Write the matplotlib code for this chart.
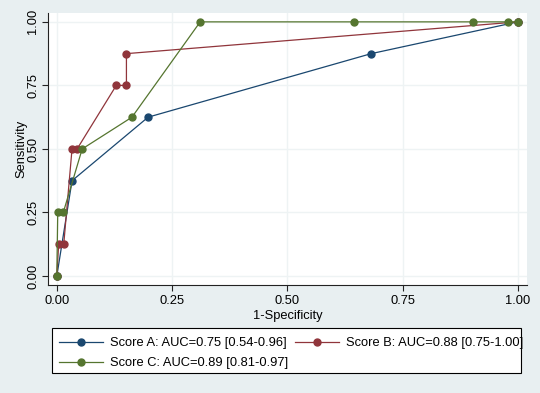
"""ROC curves for three scores, Stata-like look."""
import matplotlib
matplotlib.use("Agg")
import matplotlib.pyplot as plt
from matplotlib.patches import Rectangle

# 1-specificity / sensitivity
a_fpr = [0.0, 0.033, 0.198, 0.682, 1.0]
a_tpr = [0.0, 0.375, 0.625, 0.875, 1.0]

b_fpr = [0.0, 0.004, 0.015, 0.033, 0.044, 0.129, 0.151, 0.151, 1.0]
b_tpr = [0.0, 0.125, 0.125, 0.5, 0.5, 0.75, 0.75, 0.875, 1.0]

c_fpr = [0.0, 0.002, 0.014, 0.055, 0.163, 0.311, 0.645, 0.903, 0.979, 1.0]
c_tpr = [0.0, 0.25, 0.25, 0.5, 0.625, 1.0, 1.0, 1.0, 1.0, 1.0]

labels = ["Score A: AUC=0.75 [0.54-0.96]",
          "Score B: AUC=0.88 [0.75-1.00]",
          "Score C: AUC=0.89 [0.81-0.97]"]
colors = ["#1a476f", "#90353b", "#55752f"]
ticks = [0.0, 0.25, 0.5, 0.75, 1.0]

plt.rcParams["font.family"] = ["Liberation Sans", "DejaVu Sans"]
bg = "#e8eff1"

fig = plt.figure(figsize=(5.4, 3.93), dpi=100, facecolor=bg)
ax = fig.add_axes([0.089, 0.275, 0.887, 0.692])
ax.set_facecolor("white")

series = [(a_fpr, a_tpr), (b_fpr, b_tpr), (c_fpr, c_tpr)]
handles = []
for (x, y), col, lab in zip(series, colors, labels):
    h, = ax.plot(x, y, color=col, lw=0.9, marker="o", ms=5.0,
                 mec=col, mfc=col, label=lab)
    handles.append(h)

ax.set_xlim(-0.019, 1.02)
ax.set_ylim(-0.035, 1.035)
ax.set_xticks(ticks)
ax.set_yticks(ticks)
ax.set_xticklabels([f"{t:.2f}" for t in ticks], fontsize=9.3)
ax.set_yticklabels([f"{t:.2f}" for t in ticks], fontsize=9.3,
                   rotation=90, va="center")
ax.grid(True, color="#eef3f4", lw=1.0, zorder=0)
ax.set_axisbelow(True)
ax.tick_params(direction="out", length=4, width=0.8, color="#222222")
ax.tick_params(axis="y", pad=2.5)

for s in ["top", "right"]:
    ax.spines[s].set_visible(False)
for s in ["left", "bottom"]:
    ax.spines[s].set_color("#222222")
    ax.spines[s].set_linewidth(0.8)

ax.set_xlabel("1-Specificity", fontsize=9.3, labelpad=2)
ax.set_ylabel("Sensitivity", fontsize=9.3, labelpad=0)

# legend box is a bit narrower than its text, as in the Stata original
box = Rectangle((0.0963, 0.0509), 0.8685, 0.1145, transform=fig.transFigure,
                facecolor="white", edgecolor="black", lw=0.8, zorder=0)
fig.patches.append(box)

# legend fills column-wise: A, C in column 1, B in column 2
leg_handles = [handles[0], handles[2], handles[1]]
leg = fig.legend(handles=leg_handles, loc="upper left", ncol=2,
                 bbox_to_anchor=(0.1093, 0.1425), fontsize=9.3,
                 frameon=False, handlelength=3.4, borderpad=0,
                 borderaxespad=0, columnspacing=0.5, handletextpad=0.55,
                 labelspacing=0.62)

fig.savefig("out.png", dpi=100, facecolor=bg)
